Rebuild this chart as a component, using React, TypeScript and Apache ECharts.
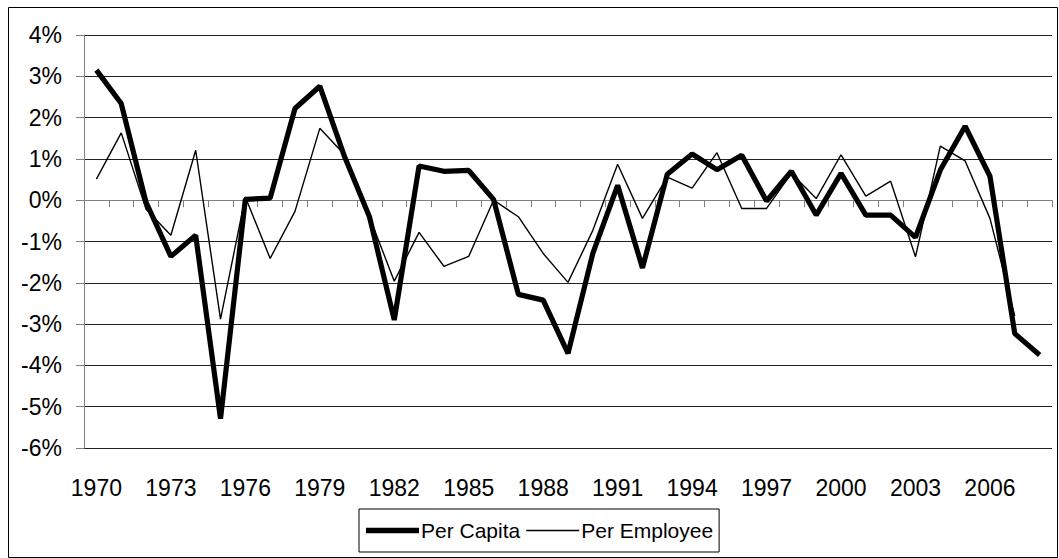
import React, { useEffect, useRef } from "react";
import * as echarts from "echarts";

const years = [
  "1970", "1971", "1972", "1973", "1974", "1975", "1976", "1977", "1978", "1979",
  "1980", "1981", "1982", "1983", "1984", "1985", "1986", "1987", "1988", "1989",
  "1990", "1991", "1992", "1993", "1994", "1995", "1996", "1997", "1998", "1999",
  "2000", "2001", "2002", "2003", "2004", "2005", "2006", "2007", "2008",
];

const perCapita = [
  3.15, 2.34, -0.05, -1.36, -0.85, -5.29, 0.02, 0.05, 2.22, 2.76,
  1.05, -0.4, -2.9, 0.83, 0.7, 0.72, 0.02, -2.28, -2.42, -3.71,
  -1.29, 0.36, -1.64, 0.63, 1.12, 0.74, 1.09, -0.02, 0.7, -0.36,
  0.65, -0.36, -0.36, -0.9, 0.73, 1.79, 0.58, -3.23, -3.75,
];

const perEmployee = [
  0.51, 1.63, -0.22, -0.85, 1.21, -2.88, 0.08, -1.41, -0.27, 1.74,
  1.1, -0.4, -1.96, -0.78, -1.6, -1.36, 0.0, -0.4, -1.29, -1.99,
  -0.73, 0.87, -0.44, 0.56, 0.29, 1.15, -0.2, -0.2, 0.65, 0.04,
  1.1, 0.1, 0.46, -1.37, 1.31, 0.95, -0.44, -2.8, null,
];

const FONT = "Liberation Sans, Arial, sans-serif";

export default function App() {
  const ref = useRef<HTMLDivElement>(null);
  useEffect(() => {
    if (!ref.current) return;
    const chart = echarts.init(ref.current, undefined, { renderer: "svg" });
    chart.setOption({
      animation: false,
      backgroundColor: "#ffffff",
      textStyle: { fontFamily: FONT },
      grid: { left: 84, right: 7, top: 35, bottom: 110, outerBoundsMode: "none" },
      graphic: [
        {
          type: "rect",
          shape: { x: 8.5, y: 7.5, width: 1049, height: 550 },
          style: { fill: "none", stroke: "#000", lineWidth: 1 },
          silent: true,
        },
      ],
      legend: {
        left: 359,
        top: 509,
        orient: "horizontal",
        borderColor: "#000",
        borderWidth: 1,
        padding: [11, 6, 11, 7],
        itemGap: 6,
        itemWidth: 53,
        itemHeight: 14,
        textStyle: { fontFamily: FONT, fontSize: 21, color: "#000", padding: [0, 0, 0, -3] },
        data: [
          { name: "Per Capita", icon: "path://M0,0H50V5.2H0Z", itemStyle: { color: "#000" } },
          { name: "Per Employee", icon: "path://M0,0H50V1.4H0Z", itemStyle: { color: "#000" } },
        ],
      },
      xAxis: [
        {
          type: "category",
          data: years,
          boundaryGap: true,
          position: "bottom",
          axisLine: { show: true, onZero: true, lineStyle: { color: "#808080", width: 1 } },
          axisTick: { show: true, inside: false, length: 7, interval: 0, lineStyle: { color: "#808080" } },
          axisLabel: { show: false },
          splitLine: { show: false },
        },
        {
          type: "category",
          data: years,
          boundaryGap: true,
          position: "bottom",
          axisLine: { show: false, onZero: false },
          axisTick: { show: false },
          axisLabel: {
            show: true,
            interval: 2,
            margin: 28,
            fontSize: 23,
            color: "#000",
            fontFamily: FONT,
          },
          splitLine: { show: false },
        },
      ],
      yAxis: {
        type: "value",
        min: -6,
        max: 4,
        interval: 1,
        axisLine: { show: true, lineStyle: { color: "#808080", width: 1 } },
        axisTick: { show: true, inside: false, length: 8, lineStyle: { color: "#808080" } },
        axisLabel: {
          formatter: "{value}%",
          margin: 22,
          fontSize: 23,
          color: "#000",
          fontFamily: FONT,
        },
        splitLine: { show: true, lineStyle: { color: "#222", width: 1 } },
      },
      series: [
        {
          name: "Per Capita",
          type: "line",
          xAxisIndex: 0,
          data: perCapita,
          symbol: "none",
          lineStyle: { color: "#000", width: 5.2 },
          itemStyle: { color: "#000" },
          z: 3,
        },
        {
          name: "Per Employee",
          type: "line",
          xAxisIndex: 0,
          data: perEmployee,
          symbol: "none",
          connectNulls: false,
          lineStyle: { color: "#000", width: 1.4 },
          itemStyle: { color: "#000" },
          z: 4,
        },
      ],
    });
    return () => chart.dispose();
  }, []);
  return (
    <div
      ref={ref}
      style={{ position: "absolute", left: 0, top: 0, width: 1059, height: 558 }}
    />
  );
}
